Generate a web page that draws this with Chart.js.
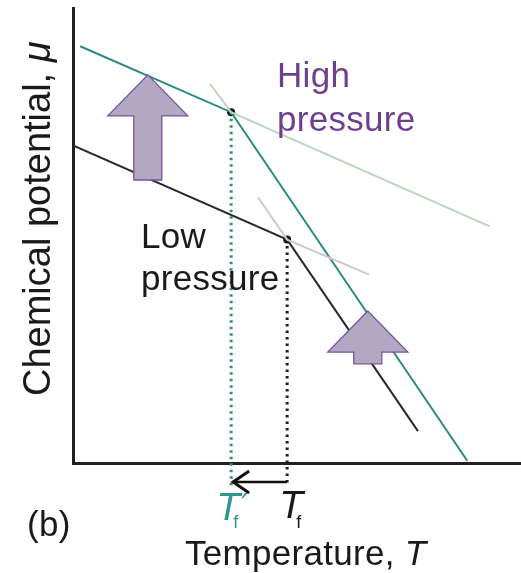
<!DOCTYPE html>
<html>
<head>
<meta charset="utf-8">
<script src="https://cdn.jsdelivr.net/npm/chart.js@4.4.1/dist/chart.umd.min.js"></script>
<style>
  html, body { margin: 0; padding: 0; background: #fff; }
  #wrap { width: 521px; height: 573px; }
</style>
</head>
<body>
<div id="wrap"><canvas id="muChart" width="521" height="573"></canvas></div>
<script>
// chemical potential vs temperature (arbitrary units 0-100)
const highT = [1.6, 35.3, 88.0];
const highMu = [91.6, 77.1, 0.5];
const highExtT = [30.6, 35.3, 93.0];     // faint continuation of both branches
const highExtMu = [83.3, 77.1, 52.0];
const lowT = [0, 47.8, 77.0];
const lowMu = [69.8, 49.1, 7.0];
const lowExtT = [41.3, 47.8, 66.1];
const lowExtMu = [58.4, 49.1, 41.4];
const meltT = [35.3, 47.8];   // T'f (high pressure), Tf (low pressure)
const meltMu = [77.1, 49.1];
const dropBottom = [-5.5, -4.4];  // where the dotted lines stop, under the axis
// the two "upward shift" arrows: position, tip and base
const shiftT = [16.7, 65.8];
const shiftTip = [85.3, 33.4];
const shiftBase = [62.2, 21.8];

function pts(xs, ys) {
  return xs.map((v, i) => ({ x: v, y: ys[i] }));
}

const teal = '#2b8a7f';
const purple = '#6f3f8f';

const data = {
  datasets: [
    { data: pts(highExtT, highExtMu), borderColor: '#bcd5bf', borderWidth: 2, pointRadius: 0 },
    { data: pts(lowExtT, lowExtMu), borderColor: '#cbcbcb', borderWidth: 2, pointRadius: 0 },
    { data: pts(lowT, lowMu), borderColor: '#2a2a2a', borderWidth: 2, pointRadius: 0 },
    { data: pts(highT, highMu), borderColor: teal, borderWidth: 2, pointRadius: 0 },
    { data: [{ x: meltT[0], y: meltMu[0] }, { x: meltT[0], y: dropBottom[0] }],
      borderColor: '#2f8f84', borderWidth: 3, borderDash: [2.5, 4], pointRadius: 0, clip: false },
    { data: [{ x: meltT[1], y: meltMu[1] }, { x: meltT[1], y: dropBottom[1] }],
      borderColor: '#1e1e1e', borderWidth: 3, borderDash: [2.5, 4], pointRadius: 0, clip: false },
    { data: pts(meltT, meltMu), showLine: false, pointRadius: 4, pointBackgroundColor: '#111',
      pointBorderWidth: 0, clip: false }
  ]
};

function textRun(ctx, parts, x, yb) {
  // parts: [text, font, color]
  let cx = x;
  parts.forEach(p => {
    ctx.font = p[1];
    ctx.fillStyle = p[2];
    ctx.fillText(p[0], cx, yb);
    cx += ctx.measureText(p[0]).width;
  });
}

const annotations = {
  id: 'annotations',
  afterDatasetsDraw(chart) {
    const { ctx, scales: { x, y } } = chart;
    ctx.save();

    // block arrows
    shiftT.forEach((t, i) => {
      const cx = x.getPixelForValue(t);
      const tip = y.getPixelForValue(shiftTip[i]);
      const base = y.getPixelForValue(shiftBase[i]);
      const hw = 40, sw = 14, hh = 41;
      ctx.beginPath();
      ctx.moveTo(cx, tip);
      ctx.lineTo(cx + hw, tip + hh);
      ctx.lineTo(cx + sw, tip + hh);
      ctx.lineTo(cx + sw, base);
      ctx.lineTo(cx - sw, base);
      ctx.lineTo(cx - sw, tip + hh);
      ctx.lineTo(cx - hw, tip + hh);
      ctx.closePath();
      ctx.fillStyle = '#b2a8c4';
      ctx.fill();
      ctx.strokeStyle = '#7c519a';
      ctx.lineWidth = 1.3;
      ctx.stroke();
    });

    // small arrow from Tf to T'f under the axis
    const xa = x.getPixelForValue(meltT[0]);
    const xb = x.getPixelForValue(meltT[1]);
    const ya = 482;
    ctx.strokeStyle = '#111';
    ctx.lineWidth = 2.5;
    ctx.beginPath();
    ctx.moveTo(xb, ya);
    ctx.lineTo(xa + 1, ya);
    ctx.stroke();
    ctx.lineWidth = 3;
    ctx.beginPath();
    ctx.moveTo(xa + 18, ya - 11);
    ctx.lineTo(xa + 2, ya);
    ctx.lineTo(xa + 18, ya + 11);
    ctx.stroke();

    ctx.textBaseline = 'alphabetic';
    const f = '35px "Liberation Sans", Arial, sans-serif';
    const fi = 'italic 35px "Liberation Sans", Arial, sans-serif';
    ctx.letterSpacing = '0.3px';

    textRun(ctx, [['High', f, purple]], 277, 87);
    textRun(ctx, [['pressure', f, purple]], 277, 131);
    textRun(ctx, [['Low', f, '#1a1a1a']], 141, 248);
    textRun(ctx, [['pressure', f, '#1a1a1a']], 141, 290);
    textRun(ctx, [['(b)', f, '#1a1a1a']], 27, 536);
    textRun(ctx, [['Temperature, ', f, '#1a1a1a'], ['T', fi, '#1a1a1a']], 185, 565);
    ctx.letterSpacing = '0px';

    const ft = 'italic 39px "Liberation Sans", Arial, sans-serif';
    const fs = '18px "Liberation Sans", Arial, sans-serif';
    const tealText = '#2f978b';
    textRun(ctx, [['T', ft, tealText]], xa - 15, 520);
    textRun(ctx, [['f', fs, tealText]], xa + 2, 528);
    textRun(ctx, [['\u2032', 'italic 30px "DejaVu Sans", sans-serif', tealText]], xa + 10, 515);
    textRun(ctx, [['T', ft, '#1a1a1a']], xb - 8, 518);
    textRun(ctx, [['f', fs, '#1a1a1a']], xb + 9, 528);

    // y-axis title, rotated
    ctx.translate(50, 396);
    ctx.rotate(-Math.PI / 2);
    textRun(ctx, [['Chemical potential, ', '38px "Liberation Sans", Arial, sans-serif', '#1a1a1a'],
      ['\u03bc', 'italic 38px "Liberation Sans", Arial, sans-serif', '#1a1a1a']], 0, 0);

    ctx.restore();
  }
};

new Chart(document.getElementById('muChart'), {
  type: 'line',
  data: data,
  options: {
    responsive: false,
    animation: false,
    layout: { autoPadding: false, padding: { left: 73, top: 8, right: 0, bottom: 110 } },
    plugins: { legend: { display: false }, tooltip: { enabled: false } },
    scales: {
      x: {
        type: 'linear', min: 0, max: 100,
        grid: { display: false, drawTicks: false },
        ticks: { display: false },
        border: { display: true, color: '#231f20', width: 3 }
      },
      y: {
        type: 'linear', min: 0, max: 100,
        grid: { display: false, drawTicks: false },
        ticks: { display: false },
        border: { display: true, color: '#231f20', width: 3 }
      }
    }
  },
  plugins: [annotations]
});
</script>
</body>
</html>
